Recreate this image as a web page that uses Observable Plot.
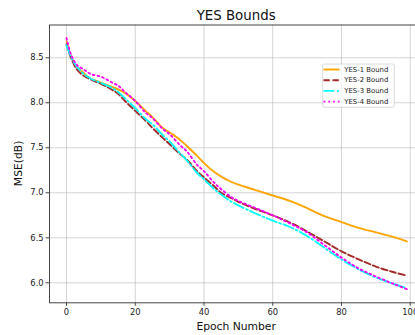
<!DOCTYPE html>
<html><head><meta charset="utf-8">
<script src="https://cdn.jsdelivr.net/npm/d3@7"></script>
<script src="https://cdn.jsdelivr.net/npm/@observablehq/plot@0.6"></script>
<style>
body{margin:0;background:#fff;overflow:hidden}
#chart{width:415px;height:335px;overflow:hidden;position:relative}
</style>
</head><body><div id="chart"></div>
<script>
const epochs = [0,1,2,3,5,7,10,13,15,17,20,23,25,28,30,33,35,38,40,43,45,48,50,55,60,65,70,75,80,85,90,95,99];
const yes1 = [8.685,8.55,8.46,8.40,8.33,8.27,8.225,8.18,8.15,8.11,8.02,7.91,7.84,7.72,7.67,7.59,7.52,7.41,7.33,7.23,7.18,7.12,7.09,7.03,6.97,6.91,6.83,6.74,6.675,6.61,6.56,6.51,6.46];
const yes2 = [8.65,8.53,8.44,8.37,8.30,8.26,8.21,8.15,8.10,8.02,7.91,7.80,7.72,7.61,7.54,7.43,7.37,7.24,7.17,7.07,7.00,6.94,6.90,6.82,6.75,6.67,6.57,6.46,6.35,6.26,6.18,6.12,6.08];
const yes3 = [8.64,8.54,8.46,8.40,8.32,8.27,8.22,8.17,8.12,8.05,7.94,7.82,7.76,7.64,7.57,7.44,7.36,7.22,7.15,7.04,6.98,6.90,6.86,6.77,6.69,6.62,6.52,6.39,6.26,6.15,6.06,5.99,5.94];
const yes4 = [8.72,8.57,8.48,8.42,8.37,8.32,8.29,8.23,8.19,8.12,8.02,7.89,7.83,7.71,7.65,7.53,7.46,7.31,7.24,7.11,7.04,6.95,6.91,6.83,6.75,6.66,6.56,6.42,6.28,6.16,6.07,5.99,5.93];
const seriesNames = ["YES-1 Bound","YES-2 Bound","YES-3 Bound","YES-4 Bound"];
const seriesValues = [yes1, yes2, yes3, yes4];
const seriesColors = ["orange","brown","cyan","magenta"];
const seriesDash = [null,"6.3,2.7","10.9,2.7,1.7,2.7","1.8,3"];
const xTicks = [0,20,40,60,80,100];
const yTicks = [6.0,6.5,7.0,7.5,8.0,8.5];
const titleText = "YES Bounds";
const xLabel = "Epoch Number";
const yLabel = "MSE(dB)";

const rows = seriesNames.flatMap((name, i) =>
  epochs.map((e, j) => ({series: name, epoch: e, mse: seriesValues[i][j]})));

const font = "DejaVu Sans, sans-serif";
const W = 415, H = 335, mL = 49, mT = 24.5, mB = 32.7, mR = -8.3;

const plot = Plot.plot({
  width: W, height: H,
  marginLeft: mL, marginTop: mT, marginBottom: mB, marginRight: mR,
  style: {fontFamily: font, background: "#fff", color: "#222", overflow: "hidden"},
  x: {domain: [-4.95, 103.95]},
  y: {domain: [5.778, 8.864]},
  marks: [
    Plot.gridX(xTicks, {stroke: "#b0b0b0", strokeOpacity: 0.55, strokeWidth: 1}),
    Plot.gridY(yTicks, {stroke: "#b0b0b0", strokeOpacity: 0.55, strokeWidth: 1}),
    ...seriesNames.map((name, i) => Plot.line(rows.filter(d => d.series === name), {
      x: "epoch", y: "mse", stroke: seriesColors[i], strokeWidth: 1.9,
      strokeDasharray: seriesDash[i] || undefined, curve: "catmull-rom"
    })),
    Plot.frame({stroke: "#444", strokeWidth: 1}),
    Plot.axisX(xTicks, {tickSize: 3.5, tickPadding: 3, fontSize: 8.4, label: null, tickFormat: d => String(d), stroke: "#444", fill: "#222"}),
    Plot.axisY(yTicks, {tickSize: 3.5, tickPadding: 2.3, fontSize: 8.4, label: null, tickFormat: d3.format(".1f"), stroke: "#444", fill: "#222"})
  ]
});
document.getElementById("chart").appendChild(plot);

const svg = d3.select(plot);
const cx = (mL + (W - mR)) / 2;
svg.append("text").attr("x", cx).attr("y", 15).attr("text-anchor", "middle")
  .attr("dominant-baseline", "central").attr("font-family", font).attr("font-size", 13.35)
  .attr("fill", "#111").text(titleText);
svg.append("text").attr("x", cx).attr("y", 326.7).attr("text-anchor", "middle")
  .attr("dominant-baseline", "central").attr("font-family", font).attr("font-size", 10.75)
  .attr("fill", "#111").text(xLabel);
const cy = (mT + (H - mB)) / 2;
svg.append("text").attr("transform", `translate(18.3,${cy}) rotate(-90)`).attr("text-anchor", "middle")
  .attr("dominant-baseline", "central").attr("font-family", font).attr("font-size", 10.75)
  .attr("fill", "#111").text(yLabel);

// legend
const lg = svg.append("g");
lg.append("rect").attr("x", 322.7).attr("y", 64).attr("width", 71.6).attr("height", 43.3)
  .attr("rx", 2).attr("fill", "#fff").attr("fill-opacity", 0.8).attr("stroke", "#d0d0d0").attr("stroke-width", 0.8);
const rowY = [69.5, 80.2, 90.9, 101.6];
seriesNames.forEach((name, i) => {
  const l = lg.append("line").attr("x1", 323.5).attr("x2", 339.5).attr("y1", rowY[i]).attr("y2", rowY[i])
    .attr("stroke", seriesColors[i]).attr("stroke-width", 1.9);
  if (seriesDash[i]) l.attr("stroke-dasharray", seriesDash[i]);
  lg.append("text").attr("x", 344.3).attr("y", rowY[i]).attr("dominant-baseline", "central")
    .attr("text-anchor", "start")
    .attr("font-family", font).attr("font-size", 6.9).attr("fill", "#222").text(name);
});
</script>
</body></html>
